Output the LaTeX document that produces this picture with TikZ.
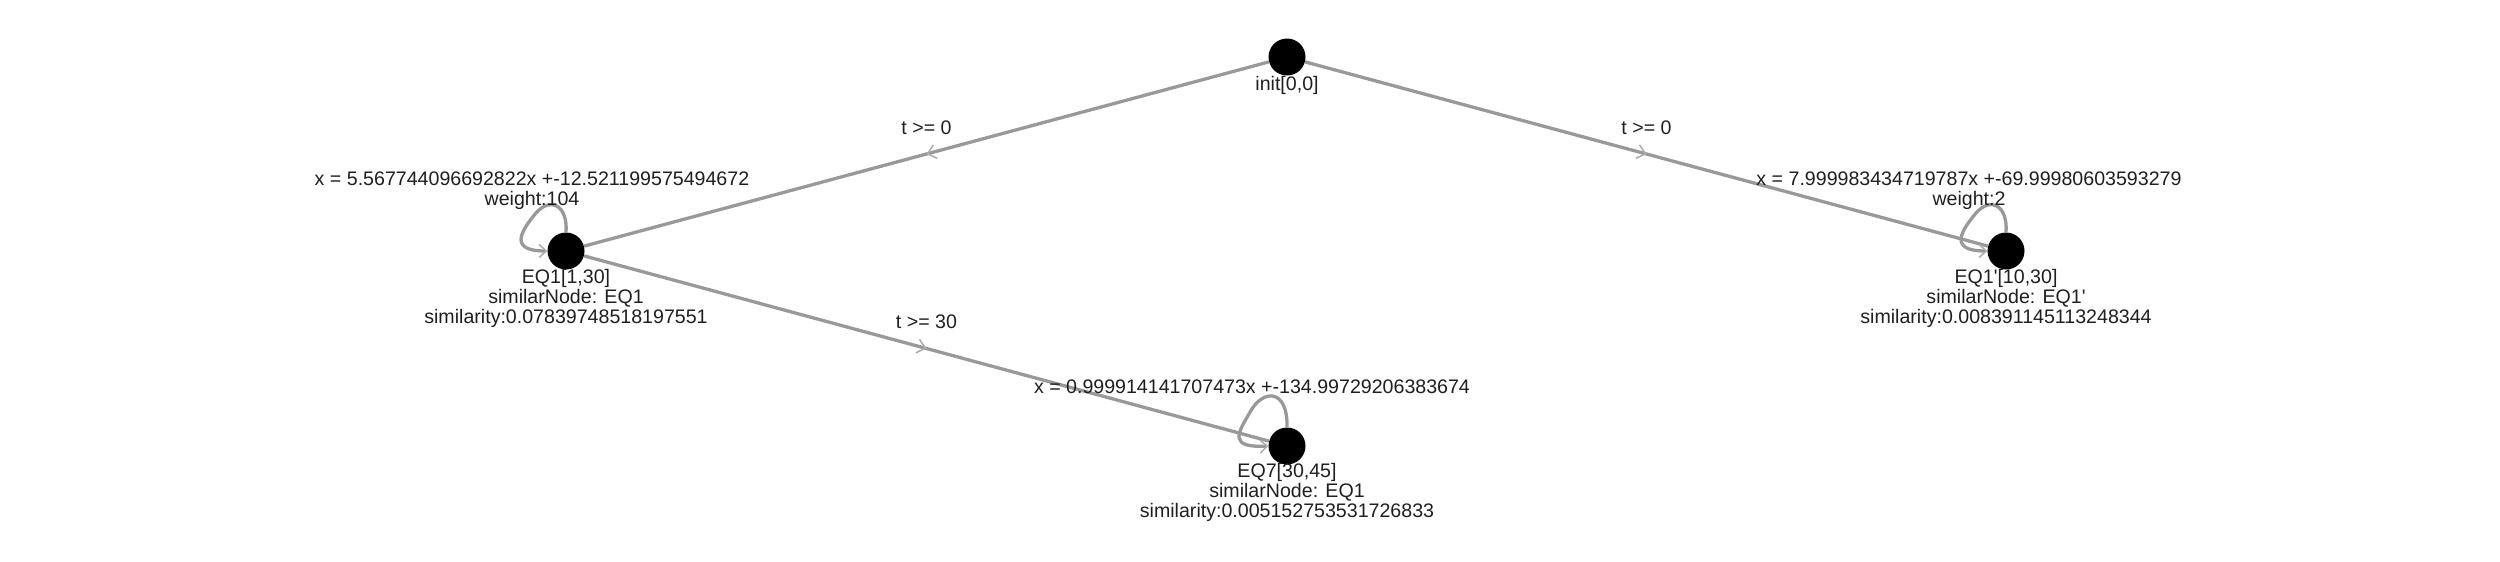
\documentclass[tikz,border=0pt]{standalone}
\usepackage{fontspec}
\setmainfont{Liberation Sans}
\usetikzlibrary{arrows.meta,decorations.markings,calc}
\definecolor{edgegray}{HTML}{999999}
\definecolor{markgray}{HTML}{ABABAB}
\begin{document}
\begin{tikzpicture}[x=1pt,y=-1pt,
  state/.style={circle,fill=black,minimum size=37pt,inner sep=0pt},
  lbl/.style={font=\fontsize{19.6}{20}\selectfont,align=center,inner sep=0pt,text=black!88},
  trans/.style={draw=edgegray,line width=3.3pt,postaction={decorate},
    decoration={markings,mark=at position 0.5 with {\arrow{Straight Barb[length=8pt,width=14pt,line width=1.5pt,color=markgray]}}}},
  selfloop/.style={draw=edgegray,line width=3.3pt,-{Straight Barb[length=7pt,width=13pt,line width=1.5pt,color=markgray]}}]
\useasboundingbox (0,0) rectangle (2500,562);
% states
\node[state] (init) at (1287,57) {};
\node[state] (eq1) at (566,251) {};
\node[state] (eq1p) at (2006,251) {};
\node[state] (eq7) at (1287,446) {};
% transitions
\draw[trans] (init) -- (eq1);
\draw[trans] (init) -- (eq1p);
\draw[trans] (eq1) -- (eq7);
% self loops
\draw[selfloop] (eq1.north) .. controls ($(eq1)+(2,-45)$) and ($(eq1)+(-15,-55)$) .. ($(eq1)+(-30,-38)$)
  .. controls ($(eq1)+(-45,-20)$) and ($(eq1)+(-58,0)$) .. (eq1.west);
\draw[selfloop] (eq1p.north) .. controls ($(eq1p)+(2,-45)$) and ($(eq1p)+(-15,-55)$) .. ($(eq1p)+(-30,-38)$)
  .. controls ($(eq1p)+(-45,-20)$) and ($(eq1p)+(-58,0)$) .. (eq1p.west);
\draw[selfloop] (eq7.north) .. controls ($(eq7)+(1,-58)$) and ($(eq7)+(-25,-58)$) .. ($(eq7)+(-38,-32)$)
  .. controls ($(eq7)+(-50,-12)$) and ($(eq7)+(-58,2)$) .. (eq7.west);
% edge labels
\node[lbl] (t1) at ($(init)!0.5!(eq1)+(0,-26)$) {t >= 0};
\node[lbl] (t2) at ($(init)!0.5!(eq1p)+(0,-26)$) {t >= 0};
\node[lbl] (t3) at ($(eq1)!0.5!(eq7)+(0,-27)$) {t >= 30};
% state labels
\node[lbl] (linit) at ($(init)+(0,28)$) {init[0,0]};
\node[lbl] (leq1) at ($(eq1)+(0,47)$) {EQ1[1,30]\\similarNode: EQ1\\similarity:0.07839748518197551};
\node[lbl] (leq1p) at ($(eq1p)+(0,47)$) {EQ1\textquotesingle[10,30]\\similarNode: EQ1\textquotesingle\\similarity:0.008391145113248344};
\node[lbl] (leq7) at ($(eq7)+(0,46)$) {EQ7[30,45]\\similarNode: EQ1\\similarity:0.005152753531726833};
% loop labels
\node[lbl] (weq1) at ($(eq1)+(-34,-60)$) {x = 5.567744096692822x +-12.521199575494672\\weight:104};
\node[lbl] (weq1p) at ($(eq1p)+(-37,-60)$) {x = 7.999983434719787x +-69.99980603593279\\weight:2};
\node[lbl] (weq7) at ($(eq7)+(-35,-59)$) {x = 0.999914141707473x +-134.99729206383674};
\end{tikzpicture}
\end{document}
